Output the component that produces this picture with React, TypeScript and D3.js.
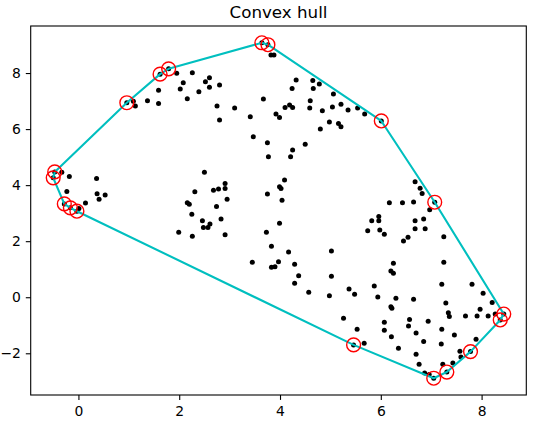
import React, { useEffect, useRef } from 'react';
import * as d3 from 'd3';

const title = 'Convex hull';
const xTicks = [0, 2, 4, 6, 8];
const yTicks = [-2, 0, 2, 4, 6, 8];

// points, grouped by area
const westPoints: [number, number][] = [
  [-0.50, 4.26], [-0.47, 4.47], [-0.33, 4.46], [-0.18, 4.31], [-0.23, 3.77],
  [-0.28, 3.33], [-0.16, 3.19], [-0.03, 3.07], [0.01, 3.17], [0.14, 3.36],
  [0.36, 4.24], [0.37, 3.69], [0.53, 3.65], [0.41, 3.50],
];

const northWestPoints: [number, number][] = [
  [0.96, 6.94], [1.09, 6.99], [1.13, 6.82], [1.37, 7.01], [1.59, 7.39],
  [1.59, 6.91], [1.62, 7.96], [1.79, 8.15], [1.95, 7.99], [2.26, 8.01],
  [2.08, 7.65], [2.02, 7.43], [2.39, 7.33], [2.16, 7.08],
];

const northPoints: [number, number][] = [
  [3.64, 9.08], [3.76, 9.01], [3.82, 8.64], [3.88, 8.64], [4.32, 7.75],
  [4.24, 7.45], [4.65, 7.73], [4.78, 7.61], [4.66, 7.45], [5.06, 7.25],
  [2.60, 7.83], [2.52, 7.69], [2.60, 7.49], [2.80, 7.57], [3.67, 7.07],
  [2.75, 6.82], [3.10, 6.75], [2.80, 6.32], [3.41, 6.44], [3.92, 6.54],
  [3.99, 6.41], [4.10, 6.77], [4.19, 6.86], [4.25, 6.77], [4.60, 7.01],
  [4.59, 6.75], [4.84, 6.65], [5.04, 6.79], [5.21, 6.89], [5.35, 6.68],
  [5.54, 6.75], [5.68, 6.54], [4.98, 6.25], [5.16, 6.20], [5.21, 6.08],
  [4.80, 6.00], [6.01, 6.29],
];

const centerPoints: [number, number][] = [
  [3.47, 5.73], [3.75, 5.51], [4.50, 5.46], [4.25, 5.25], [3.77, 5.01],
  [4.21, 5.01], [2.50, 4.46], [4.09, 4.18], [2.91, 4.06], [2.91, 3.88],
  [2.68, 3.82], [2.78, 3.86], [3.99, 3.94], [4.02, 3.88], [3.75, 3.68],
  [2.95, 3.50], [4.04, 3.46], [2.74, 3.24], [2.31, 3.76], [2.16, 3.37],
  [2.20, 3.32], [2.25, 2.96], [1.99, 2.32], [2.26, 2.18],
];

const eastPoints: [number, number][] = [
  [6.68, 4.12], [6.78, 3.89], [6.82, 3.70], [6.17, 3.37], [6.43, 3.37],
  [6.65, 3.40], [7.07, 3.39], [6.97, 3.12],
];

const southPoints: [number, number][] = [
  [2.46, 2.73], [2.48, 2.49], [2.57, 2.49], [2.61, 2.61], [2.83, 2.79],
  [2.91, 2.23], [3.99, 2.64], [3.73, 2.32], [3.83, 1.82], [4.17, 1.61],
  [3.45, 1.25], [3.83, 1.07], [3.90, 1.09], [3.97, 1.27], [4.29, 1.18],
  [4.37, 0.77], [4.29, 0.50], [4.57, 0.18], [5.02, 1.65], [5.02, 0.75],
  [4.98, 0.05], [5.37, 0.29], [5.48, 0.11], [5.26, -0.75], [5.53, -1.14],
  [5.67, -1.64], [5.46, -1.70],
];

const southEastPoints: [number, number][] = [
  [5.82, 2.73], [5.96, 2.88], [5.96, 2.73], [5.74, 2.37], [5.98, 2.40],
  [6.07, 2.25], [6.68, 2.73], [6.85, 2.79], [6.68, 2.44], [6.88, 2.44],
  [6.45, 2.01], [6.54, 2.14], [7.25, 2.16], [6.25, 1.21], [6.20, 0.94],
  [6.25, 0.86], [7.25, 1.25], [5.87, 0.40], [7.21, 0.46], [7.81, 0.46],
  [5.94, 0.01], [6.30, -0.04], [6.65, -0.07], [6.20, -0.34], [6.22, -0.39],
  [7.29, -0.21], [8.03, 0.14], [8.21, -0.19], [7.97, -0.43], [7.34, -0.55],
  [7.36, -0.69], [7.68, -0.67], [7.91, -0.67], [8.13, -0.67], [8.27, -0.60],
  [8.44, -0.60], [8.37, -0.81], [6.57, -0.79], [6.07, -0.89], [6.94, -0.86],
  [6.55, -1.03], [6.07, -1.18], [6.70, -1.28], [7.21, -1.14], [6.21, -1.41],
  [7.46, -1.35], [6.85, -1.58], [7.20, -1.67], [7.89, -1.50], [6.35, -1.82],
  [7.57, -1.93], [7.78, -1.94], [6.70, -2.03], [7.59, -2.13], [6.76, -2.39],
  [7.23, -2.39], [7.43, -2.35], [7.31, -2.67], [6.87, -2.70], [6.96, -2.76],
  [7.05, -2.89],
];

const App = () => {
  const svgRef = useRef<SVGSVGElement | null>(null);

  useEffect(() => {
    const points = [
      ...westPoints, ...northWestPoints, ...northPoints, ...centerPoints,
      ...eastPoints, ...southPoints, ...southEastPoints,
    ];
    const hull = d3.polygonHull(points) || [];

    const left = 30.7, right = 526.3, top = 26, bottom = 395;
    const font = '"DejaVu Sans", sans-serif';

    const svg = d3.select(svgRef.current);
    svg.selectAll('*').remove();

    // matplotlib style 5% margins
    const [x0, x1] = d3.extent(points, d => d[0]) as [number, number];
    const [y0, y1] = d3.extent(points, d => d[1]) as [number, number];
    const mx = (x1 - x0) * 0.05, my = (y1 - y0) * 0.05;

    const x = d3.scaleLinear().domain([x0 - mx, x1 + mx]).range([left, right]);
    const y = d3.scaleLinear().domain([y0 - my, y1 + my]).range([bottom, top]);

    svg.append('rect')
      .attr('width', 551).attr('height', 423).attr('fill', '#fff');

    const plot = svg.append('g');

    plot.selectAll('.pt')
      .data(points)
      .enter()
      .append('circle')
      .attr('class', 'pt')
      .attr('cx', d => x(d[0]))
      .attr('cy', d => y(d[1]))
      .attr('r', 2.5)
      .attr('fill', '#000');

    const line = d3.line<[number, number]>()
      .x(d => x(d[0]))
      .y(d => y(d[1]))
      .curve(d3.curveLinearClosed);

    plot.append('path')
      .datum(hull)
      .attr('d', line)
      .attr('fill', 'none')
      .attr('stroke', '#00bfbf')
      .attr('stroke-width', 2.1)
      .attr('stroke-linejoin', 'round');

    plot.selectAll('.vertex')
      .data(hull)
      .enter()
      .append('circle')
      .attr('class', 'vertex')
      .attr('cx', d => x(d[0]))
      .attr('cy', d => y(d[1]))
      .attr('r', 6.9)
      .attr('fill', 'none')
      .attr('stroke', '#ff0000')
      .attr('stroke-width', 1.4);

    // axes
    const xAxis = svg.append('g')
      .attr('transform', `translate(0,${bottom})`)
      .call(d3.axisBottom(x).tickValues(xTicks).tickSize(4.9).tickPadding(4.9).tickSizeOuter(0));
    const yAxis = svg.append('g')
      .attr('transform', `translate(${left},0)`)
      .call(d3.axisLeft(y).tickValues(yTicks).tickSize(4.9).tickPadding(4.9).tickSizeOuter(0));

    [xAxis, yAxis].forEach(g => {
      g.select('.domain').remove();
      g.selectAll('line').attr('stroke', '#000').attr('stroke-width', 1.1);
      g.selectAll('text')
        .attr('fill', '#000')
        .style('font-family', font)
        .style('font-size', '13.9px');
    });
    xAxis.selectAll('text').attr('dy', '0.78em');

    svg.append('rect')
      .attr('x', left).attr('y', top)
      .attr('width', right - left).attr('height', bottom - top)
      .attr('fill', 'none')
      .attr('stroke', '#000')
      .attr('stroke-width', 1.1);

    svg.append('text')
      .attr('x', (left + right) / 2)
      .attr('y', top - 8.3)
      .attr('text-anchor', 'middle')
      .style('font-family', font)
      .style('font-size', '16.7px')
      .attr('fill', '#000')
      .text(title);
  }, []);

  return (
    <svg
      ref={svgRef}
      width={551}
      height={423}
      style={{ position: 'absolute', left: 0, top: 0 }}
    />
  );
};

export default App;
